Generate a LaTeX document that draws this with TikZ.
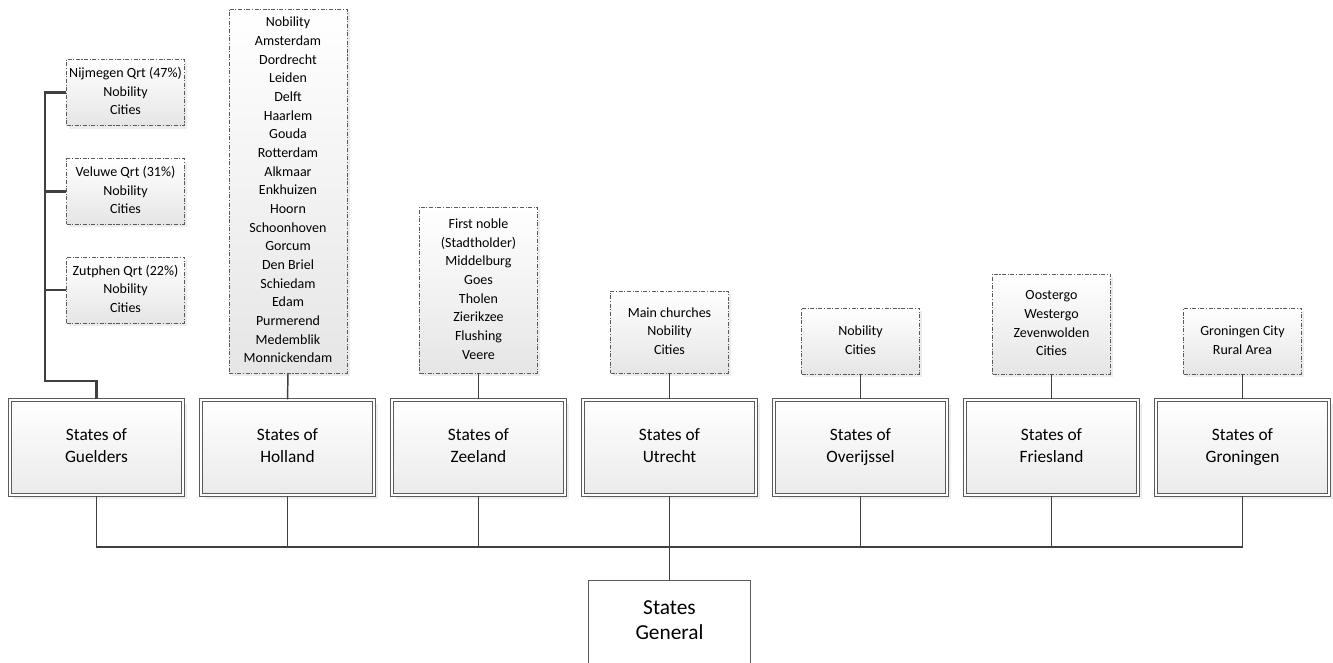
\documentclass[tikz,border=0pt]{standalone}
\usepackage{fontspec}
\setmainfont{Carlito}
\usetikzlibrary{shadows}
\definecolor{ln}{HTML}{404040}
\definecolor{bd}{HTML}{5A5A5A}
\begin{document}
\begin{tikzpicture}[x=0.75pt,y=-0.75pt,
  subbox/.style={draw=bd, line width=0.6pt,
    dash pattern=on 3pt off 1.2pt on 0.8pt off 1.2pt,
    top color=white, bottom color=black!10,
    drop shadow={shadow xshift=2.2pt, shadow yshift=-2.2pt, fill=black!15},
    align=center, inner sep=0pt, minimum width=88.5pt,
    font=\fontsize{10.5}{14}\selectfont},
  statebox/.style={draw=bd, double=white, double distance=1.5pt, line width=0.7pt,
    top color=white, bottom color=black!8,
    drop shadow={shadow xshift=3pt, shadow yshift=-3pt, fill=black!13},
    align=center, inner sep=0pt, minimum width=130pt, minimum height=71.5pt,
    font=\fontsize{13}{16.5}\selectfont},
  genbox/.style={draw=bd, line width=0.7pt, top color=white, bottom color=white,
    align=center, inner sep=0pt, minimum width=122pt, minimum height=63pt,
    font=\fontsize{16}{19}\selectfont},
  conn/.style={draw=ln, line width=1.1pt},
  thickconn/.style={draw=ln, line width=1.7pt}]
\useasboundingbox (0,0) rectangle (1333,662);

% state boxes
\node[statebox] (guel) at (96.5,447.5) {\strut States of\\Guelders\strut};
\node[statebox] (hol)  at (287.5,447.5) {\strut States of\\Holland\strut};
\node[statebox] (zee)  at (478.5,447.5) {\strut States of\\Zeeland\strut};
\node[statebox] (utr)  at (669.5,447.5) {\strut States of\\Utrecht\strut};
\node[statebox] (ove)  at (860.5,447.5) {\strut States of\\Overijssel\strut};
\node[statebox] (fri)  at (1051.5,447.5) {\strut States of\\Friesland\strut};
\node[statebox] (gro)  at (1242.5,447.5) {\strut States of\\Groningen\strut};

% States General
\node[genbox] (gen) at (669.5,622) {\strut States\\General\strut};

% sub boxes
\node[subbox, minimum height=50pt] (nij) at (125.5,92.5) {\strut Nijmegen Qrt (47\%)\\Nobility\\Cities\strut};
\node[subbox, minimum height=49pt] (vel) at (125.5,191.5) {\strut Veluwe Qrt (31\%)\\Nobility\\Cities\strut};
\node[subbox, minimum height=49.5pt] (zut) at (125.5,290) {\strut Zutphen Qrt (22\%)\\Nobility\\Cities\strut};

\node[subbox, minimum height=273pt] (hsub) at (288,191) {\strut Nobility\\Amsterdam\\Dordrecht\\Leiden\\Delft\\Haarlem\\Gouda\\Rotterdam\\Alkmaar\\Enkhuizen\\Hoorn\\Schoonhoven\\Gorcum\\Den Briel\\Schiedam\\Edam\\Purmerend\\Medemblik\\Monnickendam\strut};
\node[subbox, minimum height=124.5pt] (zsub) at (478.5,290) {\strut First noble\\(Stadtholder)\\Middelburg\\Goes\\Tholen\\Zierikzee\\Flushing\\Veere\strut};
\node[subbox, minimum height=61.5pt] (usub) at (669.5,332) {\strut Main churches\\Nobility\\Cities\strut};
\node[subbox, minimum height=49.5pt] (osub) at (860.5,341) {\strut Nobility\\Cities\strut};
\node[subbox, minimum height=75pt] (fsub) at (1051.5,324) {\strut Oostergo\\Westergo\\Zevenwolden\\Cities\strut};
\node[subbox, minimum height=49.5pt] (gsub) at (1242.5,341) {\strut Groningen City\\Rural Area\strut};

% Guelders connectors
\coordinate (gc) at (45,381);
\draw[thickconn] (nij.west) -| (gc) -| (guel.north);
\draw[thickconn] (vel.west) -- (vel.west -| gc);
\draw[thickconn] (zut.west) -- (zut.west -| gc);

% sub to state
\draw[conn] (hsub.south) -- (hol.north);
\draw[conn] (zsub.south) -- (zee.north);
\draw[conn] (usub.south) -- (utr.north);
\draw[conn] (osub.south) -- (ove.north);
\draw[conn] (fsub.south) -- (fri.north);
\draw[conn] (gsub.south) -- (gro.north);

% bus
\coordinate (bus) at (669.5,547);
\draw[conn] (guel.south) -- (guel.south |- bus) -- (gro.south |- bus) -- (gro.south);
\draw[conn] (hol.south) -- (hol.south |- bus);
\draw[conn] (zee.south) -- (zee.south |- bus);
\draw[conn] (utr.south) -- (gen.north);
\draw[conn] (ove.south) -- (ove.south |- bus);
\draw[conn] (fri.south) -- (fri.south |- bus);
\end{tikzpicture}
\end{document}
